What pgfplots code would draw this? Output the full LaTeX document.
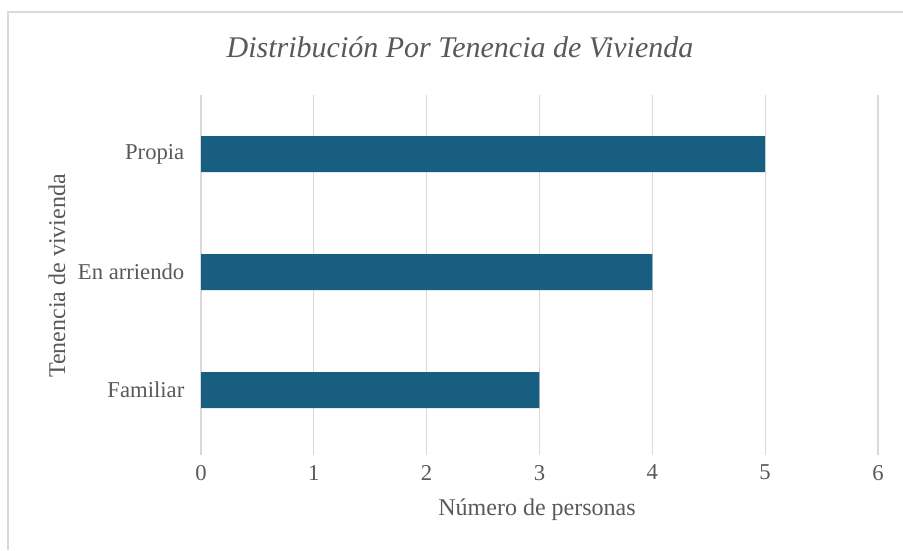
\documentclass[border=0pt]{standalone}
\usepackage{fontspec}
\setmainfont{Liberation Serif}
\usepackage{pgfplots}
\pgfplotsset{compat=1.18}
\definecolor{barc}{HTML}{175E81}
\definecolor{txt}{HTML}{595959}
\definecolor{grd}{HTML}{D9D9D9}
\begin{document}
\begin{tikzpicture}[x=0.75pt,y=0.75pt]
\path[use as bounding box] (0,0) rectangle (903,550);
\draw[grd,line width=1.2pt] (8,0) -- (8,538) -- (903,538);
\begin{axis}[
  at={(150.75pt,71.25pt)}, anchor=south west,
  scale only axis, width=507.75pt, height=270pt,
  xbar, bar width=27pt,
  xmin=0, xmax=6, ymin=-0.55, ymax=2.5,
  xtick={0,...,6}, ytick={0,1,2},
  yticklabels={Familiar,En arriendo,Propia},
  axis line style={draw=none},
  major tick length=0pt,
  xmajorgrids, grid style={grd,line width=0.8pt},
  tick label style={font=\fontsize{17}{19}\selectfont, text=txt},
  /pgf/number format/assume math mode=true,
  xticklabel style={yshift=-4pt},
  yticklabel style={xshift=-9pt},
]
\addplot[fill=barc,draw=none] coordinates {(3,0) (4,1) (5,2)};
\end{axis}
\node[text=txt,font=\fontsize{22.5}{25}\selectfont\itshape] at (460,503) {Distribución Por Tenencia de Vivienda};
\node[text=txt,font=\fontsize{18}{20}\selectfont] at (537,40) {Número de personas};
\node[text=txt,font=\fontsize{18}{20}\selectfont,rotate=90] at (57,274) {Tenencia de vivienda};
\end{tikzpicture}
\end{document}
